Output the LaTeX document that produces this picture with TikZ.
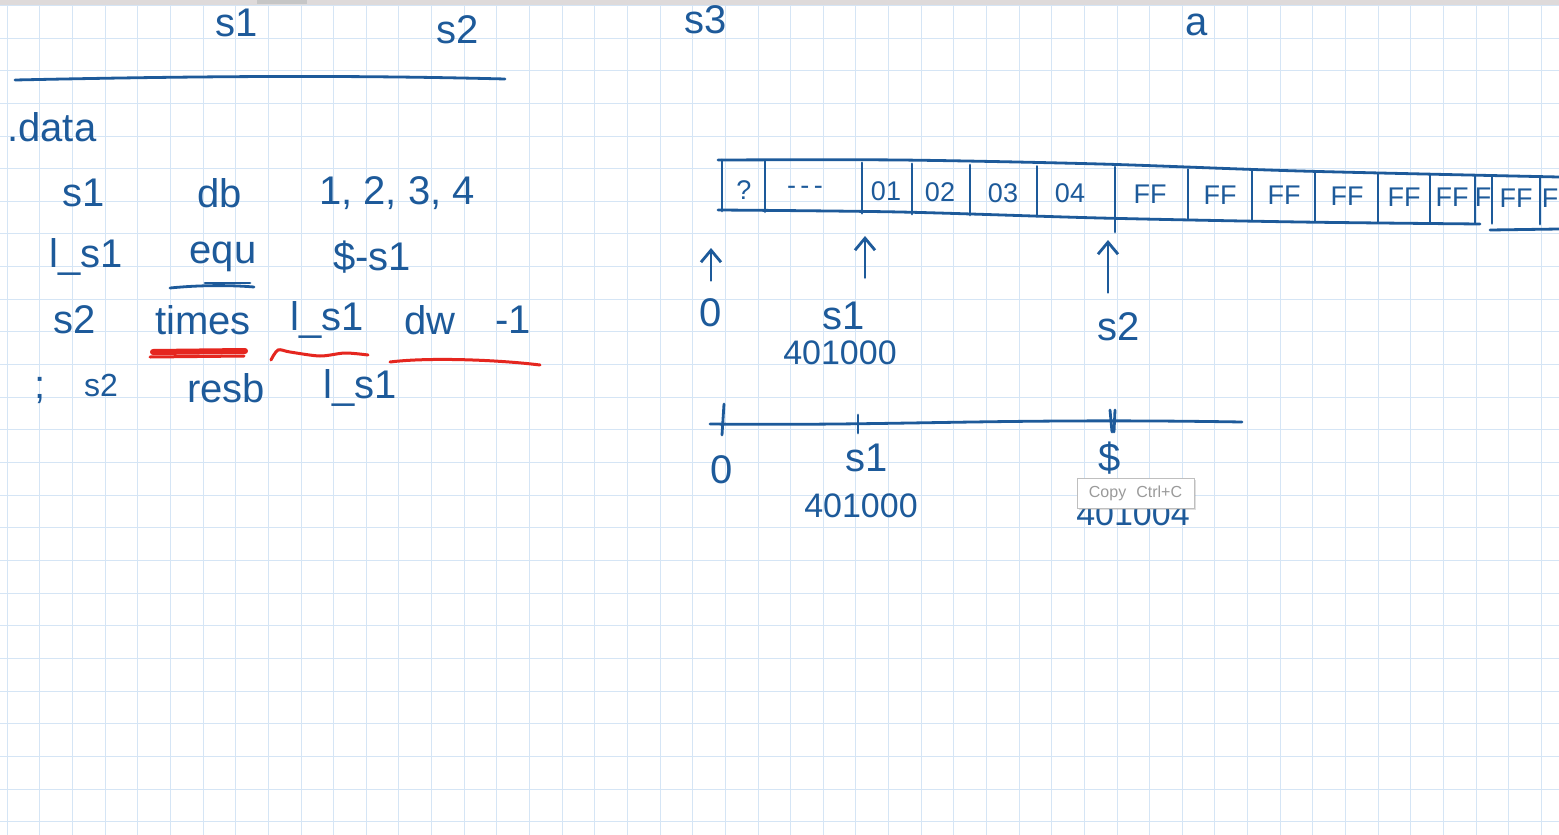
\documentclass[tikz,border=0pt]{standalone}
\usepackage{fontspec}
\setmainfont{Liberation Sans}
\usepackage{tikz}
\usetikzlibrary{positioning, arrows.meta, calc, shadows}
\usepackage{xcolor}
\definecolor{notaInk}{HTML}{1D5A9A}
\definecolor{notaRed}{HTML}{E5261F}
\definecolor{notaGrid}{HTML}{D5E5F5}
\definecolor{notaBar}{HTML}{DEDADA}
\definecolor{notaMuted}{HTML}{9A9A9A}

\tikzset{
  tinta/.style={text=notaInk, font=\fontsize{20}{24}\selectfont, inner sep=0pt},
  cifra/.style={tinta, font=\fontsize{17}{20}\selectfont},
  celda/.style={text=notaInk, font=\fontsize{13.5}{16}\selectfont, inner sep=0pt},
  trazo/.style={draw=notaInk, line width=1.4pt, line cap=round, line join=round},
  marca/.style={draw=notaRed, line width=1.5pt, line cap=round},
  flecha/.style={trazo, -{Straight Barb[length=6pt, width=10pt]}},
}

\begin{document}
\begin{tikzpicture}[x=0.5pt, y=-0.5pt]
        \useasboundingbox (0,0) rectangle (1559,835);
        \fill[white] (0,0) rectangle (1559,835);
        % Rejilla
        \foreach \i in {0,...,47}
          \draw[notaGrid, line width=0.5pt] ({7.3+32.64*\i},0) -- ({7.3+32.64*\i},835);
        \foreach \j in {0,...,25}
          \draw[notaGrid, line width=0.5pt] (0,{5.4+32.65*\j}) -- (1559,{5.4+32.65*\j});
        % Barra superior
        \fill[notaBar] (0,0) rectangle (1559,5);
        \fill[gray!45] (257,0) rectangle (307,4);
        % Cabecera
        \node[tinta] (topS1) at (237,23) {s1};
        \node[tinta] (topS2) at (458,30) {s2};
        \node[tinta] (topS3) at (706,20) {s3};
        \node[tinta] (topA) at (1197,25) {a};
        \draw[trazo] (15,80) .. controls (200,76) and (350,75) .. (505,79);
        % Codigo
        \node[tinta, anchor=west] (seccion) at (7,127) {.data};
        \node[tinta] (v1nom) at (84,193) {s1};
        \node[tinta] (v1dir) at (220,193) {db};
        \node[tinta] (v1val) at (397,193) {1, 2, 3, 4};
        \node[tinta] (lnom) at (86,257) {l\_s1};
        \node[tinta] (ldir) at (223,257) {equ};
        \node[tinta] (lval) at (372,257) {\$-s1};
        \node[tinta] (v2nom) at (75,320) {s2};
        \node[tinta] (v2dir) at (203,320) {times};
        \node[tinta] (v2cnt) at (327,320) {l\_s1};
        \node[tinta] (v2tipo) at (430,320) {dw};
        \node[tinta] (v2val) at (513,320) {-1};
        \node[tinta] (comen) at (40,390) {;};
        \node[tinta, font=\fontsize{16}{19}\selectfont] (v3nom) at (101,385) {s2};
        \node[tinta] (v3dir) at (226,388) {resb};
        \node[tinta] (v3cnt) at (360,388) {l\_s1};
        % Subrayados
        \draw[trazo] (170,288) .. controls (200,285) and (230,285) .. (254,287);
        \draw[trazo] (205,283) -- (250,283);
        \draw[notaRed, line width=3pt, line cap=round] (153,352) -- (245,351);
        \draw[marca] (150,357) -- (244,356);
        \draw[marca] plot[smooth] coordinates {(271,360) (278,350) (290,352) (320,356) (345,353) (368,355)};
        \draw[marca] (390,362) .. controls (430,357) and (500,360) .. (540,365);
        % Tira de memoria
        \draw[trazo] plot[smooth] coordinates {(718,160) (900,160) (1100,164) (1300,171) (1559,177)};
        \draw[trazo] plot[smooth] coordinates {(718,210) (900,212) (1100,218) (1300,222) (1480,224)};
        \draw[trazo] (1490,230) -- (1559,229);
        \foreach \x in {722,765,862,912,970,1037,1188,1252,1315,1378,1430,1475,1492,1540}
          \draw[trazo] (\x,{160+0.02*(\x-720)}) -- (\x,{211+0.016*(\x-720)});
        \draw[trazo] (1115,167) -- (1115,232);
        \foreach \x/\t [count=\k] in {744/?, 805/-\,-\,-, 886/01, 940/02, 1003/03, 1070/04,
            1150/FF, 1220/FF, 1284/FF, 1347/FF, 1404/FF, 1452/FF, 1483/F, 1516/FF, 1550/F}
          \node[celda] (m\k) at (\x,{190+0.01*(\x-720)}) {\t};
        % Punteros
        \coordinate (at0) at (711,248);
        \coordinate (at1) at (865,236);
        \coordinate (at2) at (1108,240);
        \node[tinta] (ptr0) at (711,313) {0};
        \node[tinta] (ptr1) at (844,316) {s1};
        \node[cifra] (ptr1dir) at (840,353) {401000};
        \node[tinta] (ptr2) at (1119,327) {s2};
        \draw[flecha, shorten <=9pt] (ptr0.north) -- (at0);
        \draw[flecha, shorten <=12pt] (ptr1.north -| at1) -- (at1);
        \draw[flecha, shorten <=10pt] (ptr2.north -| at2) -- (at2);
        % Eje de direcciones
        \coordinate (ax0) at (710,424);
        \coordinate (ax1) at (1242,422);
        \draw[trazo] (ax0) .. controls (900,426) and (1000,418) .. (ax1);
        \draw[trazo] (724,404) -- (722,435);
        \draw[trazo] (858,415) -- (858,433);
        \draw[trazo] (1110,410) -- (1112,432);
        \draw[trazo] (1115,410) -- (1114,432);
        \node[tinta] (eje0) at (722,470) {0};
        \node[tinta] (ejeS1) at (867,458) {s1};
        \node[cifra] (ejeS1dir) at (861,506) {401000};
        \node[tinta] (ejeFin) at (1110,458) {\$};
        \node[cifra] (ejeFindir) at (1133,514) {401004};
        % Menu emergente
        \node[draw=gray!50, fill=white, minimum width=58.5pt, minimum height=15pt, inner sep=0pt,
          font=\fontsize{8}{9}\selectfont, text=notaMuted,
          drop shadow={opacity=0.25, shadow xshift=1pt, shadow yshift=-1pt}]
          (copia) at (1135.5,493) {Copy\hspace{5pt}Ctrl+C};
      \end{tikzpicture}
\end{document}
